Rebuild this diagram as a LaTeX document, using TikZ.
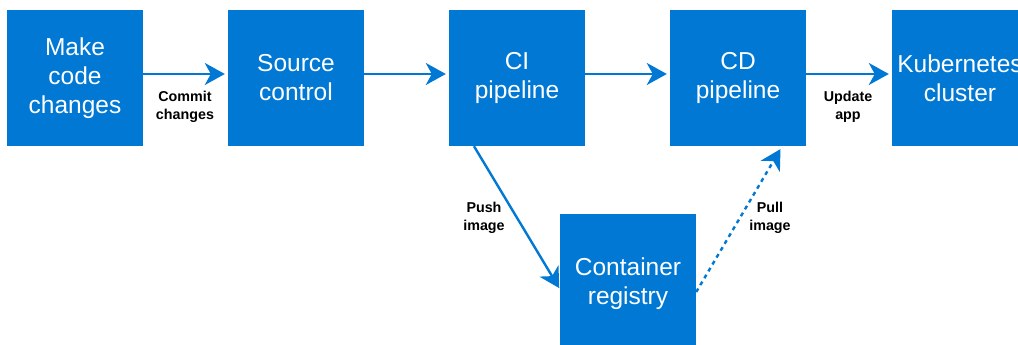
\documentclass[tikz,border=0pt]{standalone}
\usepackage{fontspec}
\setmainfont{Liberation Sans}
\usetikzlibrary{arrows.meta}
\definecolor{msblue}{HTML}{0078D4}
\tikzset{
  x=1pt,y=1pt,
  box/.style={fill=msblue, draw=none, minimum width=136pt, minimum height=136pt, inner sep=0pt,
    text=white, align=center, font=\fontsize{24.5}{29}\selectfont},
  flow/.style={draw=msblue, line width=2.4pt, -{Stealth[length=20pt,width=22pt,inset=6pt]}},
  dotflow/.style={flow, dash pattern=on 4pt off 4pt},
  lbl/.style={align=center, font=\bfseries\fontsize{14.3}{17.5}\selectfont, inner sep=0pt}
}
\begin{document}
\begin{tikzpicture}
\useasboundingbox (0,0) rectangle (1018,345);
\clip (0,0) rectangle (1018,345);
\fill[white] (0,0) rectangle (1018,345);
\node[box] (mk) at (75,267) {Make\\code\\changes};
\node[box] (sc) at (296,267) {Source\\control};
\node[box] (ci) at (517,267) {CI\\pipeline};
\node[box] (cd) at (738,267) {CD\\pipeline};
\node[box] (kc) at (960,267) {Kubernetes\\cluster};
\node[box, minimum height=140pt] (cr) at (628,61) {Container\\registry};
\draw[flow, shorten >=3pt] ([yshift=4pt]mk.east) -- ([yshift=4pt]sc.west);
\draw[flow, shorten >=3pt] ([yshift=4pt]sc.east) -- ([yshift=4pt]ci.west);
\draw[flow, shorten >=3pt] ([yshift=4pt]ci.east) -- ([yshift=4pt]cd.west);
\draw[flow, shorten >=3pt] ([yshift=4pt]cd.east) -- ([yshift=4pt]kc.west);
\draw[flow, shorten >=1pt] ([xshift=-43pt]ci.south) -- ([yshift=-5pt]cr.west);
\draw[dotflow, shorten >=1pt] ([yshift=-8pt]cr.east) -- ([xshift=43pt,yshift=-2pt]cd.south);
\node[lbl] (l1) at (185,238) {Commit\\changes};
\node[lbl] (l2) at (484,127) {Push\\image};
\node[lbl] (l3) at (770,127) {Pull\\image};
\node[lbl] (l4) at (848,238) {Update\\app};
\end{tikzpicture}
\end{document}
